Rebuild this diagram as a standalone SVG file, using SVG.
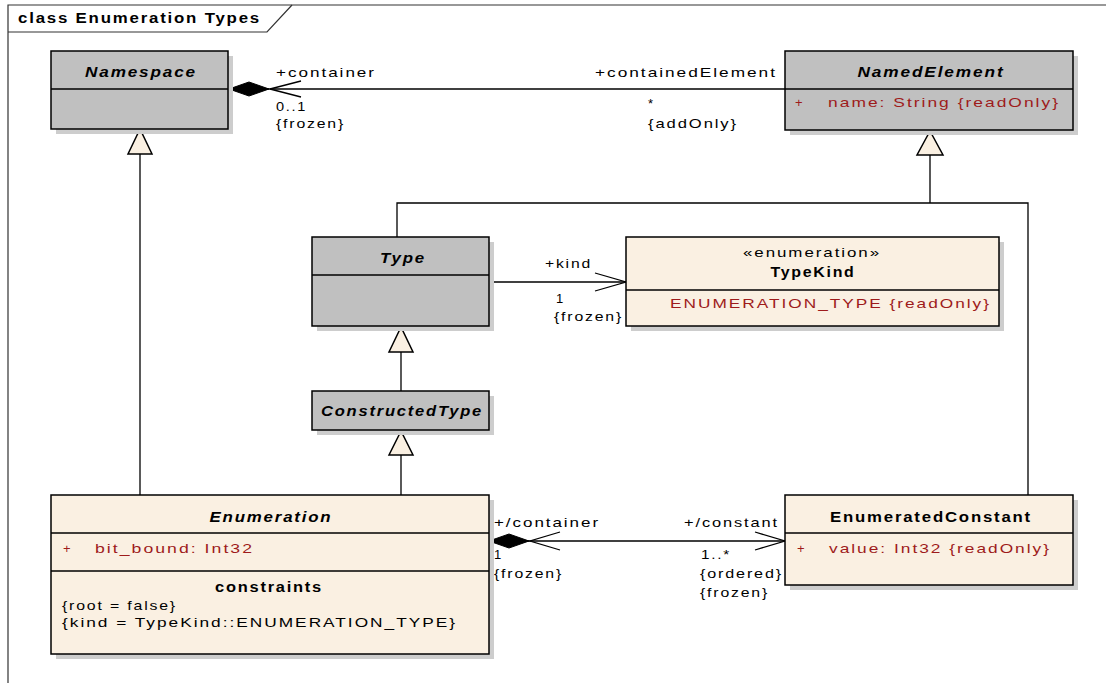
<svg xmlns="http://www.w3.org/2000/svg" width="1106" height="683" viewBox="0 0 1106 683">
<defs>
<style>
text{font-family:"Liberation Sans",Arial,sans-serif;font-size:13px;letter-spacing:1.5px;fill:#000}
.t{font-size:14px;font-weight:bold}
.n{font-size:14px;font-weight:bold;font-style:italic}
.b{font-size:14px;font-weight:bold}
.a{fill:#9E1B1B}
.m{text-anchor:middle}
.sh{fill:#CDCDCD;stroke:none}
.g{fill:#C0C0C0;stroke:#000;stroke-width:1.5}
.c{fill:#FAF0E2;stroke:#000;stroke-width:1.5}
.dv{stroke:#000;stroke-width:1.5;fill:none}
.ln{stroke:#000;stroke-width:1.3;fill:none}
.gen{fill:#FAF0E2;stroke:#000;stroke-width:1.5}
.dia{fill:#000;stroke:#000;stroke-width:1}
.fr{stroke:#333;stroke-width:1.2;fill:none}
</style>
</defs>
<rect x="0" y="0" width="1106" height="683" fill="#fff"/>
<g id="frame">
<path class="fr" d="M8,683 V5 H1106"/>
<path class="fr" d="M8,32 H267 L292,5"/>
<text class="t" x="18" y="23" textLength="243" lengthAdjust="spacingAndGlyphs">class Enumeration Types</text>
</g>
<g id="connectors">
<path class="ln" d="M228,89 H785"/>
<polygon class="dia" points="229,89 249,82 269,89 249,96"/>
<path class="ln" d="M301,81 L270,89 L301,97"/>
<path class="ln" d="M489,282 H626"/>
<path class="ln" d="M595,273 L626,282 L595,291"/>
<path class="ln" d="M489,541 H785"/>
<polygon class="dia" points="489,541 509,534 529,541 509,548"/>
<path class="ln" d="M560,532 L530,541 L560,550"/>
<path class="ln" d="M755,532 L785,541 L755,550"/>
<path class="ln" d="M140,154 V495"/>
<polygon class="gen" points="140,129 128,154 152,154"/>
<path class="ln" d="M930,155 V203 M397,237 V203 H1028 V495"/>
<polygon class="gen" points="930,131 917,155 943,155"/>
<path class="ln" d="M401,352 V391"/>
<polygon class="gen" points="401,327 389,352 413,352"/>
<path class="ln" d="M401,455 V495"/>
<polygon class="gen" points="401,431 389,455 413,455"/>
<text x="276" y="77" textLength="100" lengthAdjust="spacingAndGlyphs">+container</text>
<text x="276" y="111" textLength="31" lengthAdjust="spacingAndGlyphs">0..1</text>
<text x="276" y="128" textLength="69" lengthAdjust="spacingAndGlyphs">{frozen}</text>
<text x="595" y="77" textLength="182" lengthAdjust="spacingAndGlyphs">+containedElement</text>
<text x="648" y="108">*</text>
<text x="648" y="128" textLength="90" lengthAdjust="spacingAndGlyphs">{addOnly}</text>
<text x="545" y="268" textLength="47" lengthAdjust="spacingAndGlyphs">+kind</text>
<text x="556" y="303">1</text>
<text x="554" y="321" textLength="69" lengthAdjust="spacingAndGlyphs">{frozen}</text>
<text x="494" y="527" textLength="106" lengthAdjust="spacingAndGlyphs">+/container</text>
<text x="494" y="559">1</text>
<text x="494" y="578" textLength="69" lengthAdjust="spacingAndGlyphs">{frozen}</text>
<text x="684" y="527" textLength="95" lengthAdjust="spacingAndGlyphs">+/constant</text>
<text x="701" y="559" textLength="30" lengthAdjust="spacingAndGlyphs">1..*</text>
<text x="700" y="578" textLength="83" lengthAdjust="spacingAndGlyphs">{ordered}</text>
<text x="700" y="597" textLength="69" lengthAdjust="spacingAndGlyphs">{frozen}</text>
</g>
<g id="Namespace">
<rect class="sh" x="56" y="56" width="177" height="78"/>
<rect class="g" x="51" y="51" width="177" height="78"/>
<path class="dv" d="M51,89 H228"/>
<text class="n m" x="141" y="77" textLength="112" lengthAdjust="spacingAndGlyphs">Namespace</text>
</g>
<g id="NamedElement">
<rect class="sh" x="790" y="56" width="288" height="79"/>
<rect class="g" x="785" y="51" width="288" height="79"/>
<path class="dv" d="M785,89 H1073"/>
<text class="n m" x="931" y="77" textLength="147" lengthAdjust="spacingAndGlyphs">NamedElement</text>
<text class="a" x="795" y="107">+</text>
<text class="a" x="828" y="107" textLength="232" lengthAdjust="spacingAndGlyphs">name:  String {readOnly}</text>
</g>
<g id="Type">
<rect class="sh" x="317" y="242" width="177" height="89"/>
<rect class="g" x="312" y="237" width="177" height="89"/>
<path class="dv" d="M312,275 H489"/>
<text class="n m" x="403" y="263" textLength="46" lengthAdjust="spacingAndGlyphs">Type</text>
</g>
<g id="TypeKind">
<rect class="sh" x="631" y="242" width="373" height="89"/>
<rect class="c" x="626" y="237" width="373" height="89"/>
<path class="dv" d="M626,290 H999"/>
<text class="m" x="812" y="257" textLength="138" lengthAdjust="spacingAndGlyphs">«enumeration»</text>
<text class="b m" x="813" y="277" textLength="85" lengthAdjust="spacingAndGlyphs">TypeKind</text>
<text class="a" x="670" y="308" textLength="321" lengthAdjust="spacingAndGlyphs">ENUMERATION_TYPE {readOnly}</text>
</g>
<g id="ConstructedType">
<rect class="sh" x="317" y="396" width="177" height="39"/>
<rect class="g" x="312" y="391" width="177" height="39"/>
<text class="n m" x="402" y="416" textLength="162" lengthAdjust="spacingAndGlyphs">ConstructedType</text>
</g>
<g id="Enumeration">
<rect class="sh" x="56" y="500" width="438" height="159"/>
<rect class="c" x="51" y="495" width="438" height="159"/>
<path class="dv" d="M51,533 H489 M51,571 H489"/>
<text class="n m" x="271" y="522" textLength="123" lengthAdjust="spacingAndGlyphs">Enumeration</text>
<text class="a" x="63" y="553">+</text>
<text class="a" x="95" y="553" textLength="159" lengthAdjust="spacingAndGlyphs">bit_bound:  Int32</text>
<text class="b m" x="269" y="592" textLength="108" lengthAdjust="spacingAndGlyphs">constraints</text>
<text x="62" y="610" textLength="115" lengthAdjust="spacingAndGlyphs">{root = false}</text>
<text x="62" y="627" textLength="395" lengthAdjust="spacingAndGlyphs">{kind = TypeKind::ENUMERATION_TYPE}</text>
</g>
<g id="EnumeratedConstant">
<rect class="sh" x="790" y="500" width="288" height="90"/>
<rect class="c" x="785" y="495" width="288" height="90"/>
<path class="dv" d="M785,533 H1073"/>
<text class="b m" x="931" y="522" textLength="202" lengthAdjust="spacingAndGlyphs">EnumeratedConstant</text>
<text class="a" x="797" y="553">+</text>
<text class="a" x="829" y="553" textLength="222" lengthAdjust="spacingAndGlyphs">value:  Int32 {readOnly}</text>
</g>
</svg>
